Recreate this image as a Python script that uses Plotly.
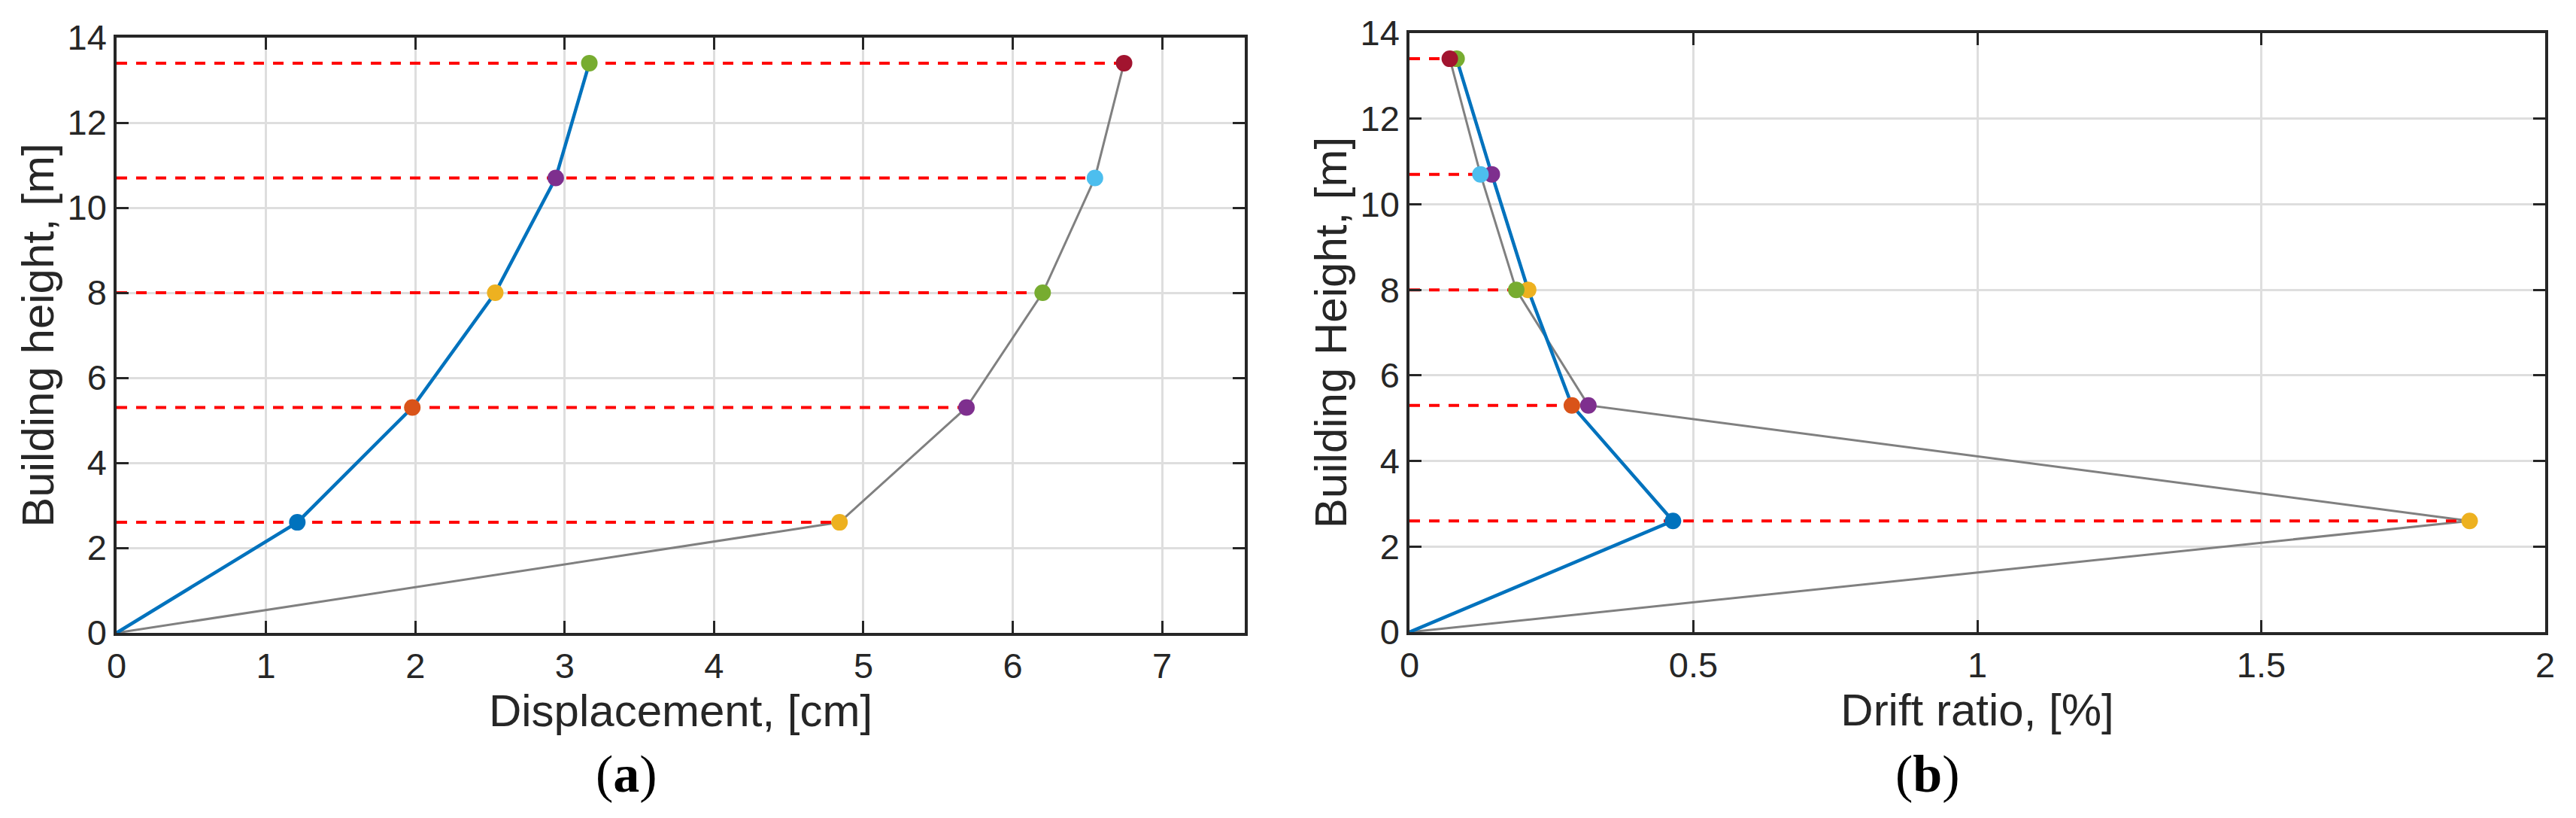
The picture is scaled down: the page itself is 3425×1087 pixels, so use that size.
import plotly.graph_objects as go

# ---------------- data ----------------
heights = [0, 2.6, 5.3, 8.0, 10.7, 13.4]
disp_blue = [0, 1.21, 1.98, 2.535, 2.94, 3.165]
disp_gray = [0, 4.84, 5.69, 6.20, 6.55, 6.745]
drift_blue = [0, 0.464, 0.286, 0.209, 0.145, 0.083]
drift_gray = [0, 1.867, 0.315, 0.188, 0.125, 0.071]

xticks_a = [0, 1, 2, 3, 4, 5, 6, 7]
xticks_b = [0, 0.5, 1, 1.5, 2]
yticks = [0, 2, 4, 6, 8, 10, 12, 14]

# ---------------- style ----------------
W, H = 3425, 1087
C_BLUE = "#0072BD"
C_GRAY = "#808080"
C_RED = "#FF0000"
AX = "#262626"
GRID = "#DEDEDE"
PAL = ["#0072BD", "#D95319", "#EDB120", "#7E2F8E", "#77AC30", "#4DBEEE", "#A2142F"]
mk_blue = PAL[0:5]
mk_gray = PAL[2:7]
FONT = "Liberation Sans, Arial, Helvetica, sans-serif"
TFS = 60

def px_dom(a, b, total):
    return [a / total, b / total]

fig = go.Figure()

def add_panel(xb, xg, xa, ya):
    fig.add_trace(go.Scatter(x=xg, y=heights, mode="lines", line=dict(color=C_GRAY, width=3),
                             xaxis=xa, yaxis=ya, showlegend=False, hoverinfo="skip"))
    fig.add_trace(go.Scatter(x=xb, y=heights, mode="lines", line=dict(color=C_BLUE, width=4.5),
                             xaxis=xa, yaxis=ya, showlegend=False, hoverinfo="skip"))
    dx, dy = [], []
    for h, g in zip(heights[1:], xg[1:]):
        dx += [0, g, None]
        dy += [h, h, None]
    fig.add_trace(go.Scatter(x=dx, y=dy, mode="lines",
                             line=dict(color=C_RED, width=4, dash="14px,12px"),
                             xaxis=xa, yaxis=ya, showlegend=False, hoverinfo="skip"))
    fig.add_trace(go.Scatter(x=xb[1:], y=heights[1:], mode="markers",
                             marker=dict(color=mk_blue, size=22, symbol="circle"),
                             xaxis=xa, yaxis=ya, showlegend=False, hoverinfo="skip"))
    fig.add_trace(go.Scatter(x=xg[1:], y=heights[1:], mode="markers",
                             marker=dict(color=mk_gray, size=22, symbol="circle"),
                             xaxis=xa, yaxis=ya, showlegend=False, hoverinfo="skip"))

add_panel(disp_blue, disp_gray, "x", "y")
add_panel(drift_blue, drift_gray, "x2", "y2")

axis_common = dict(
    showline=True, linecolor=AX, linewidth=3.5, mirror="ticks",
    ticks="inside", ticklen=16, tickwidth=3, tickcolor=AX,
    showgrid=True, gridcolor=GRID, gridwidth=3, zeroline=False,
    tickfont=dict(family=FONT, size=47, color=AX), automargin=False,
)

fig.update_layout(
    template="none",
    width=W, height=H,
    margin=dict(l=0, r=0, t=0, b=0, autoexpand=False),
    paper_bgcolor="white", plot_bgcolor="white",
    xaxis=dict(domain=px_dom(155, 1655, W), range=[0, 7.553], tickvals=xticks_a,
               title=dict(text="Displacement, [cm]", font=dict(family=FONT, size=TFS, color=AX), standoff=0),
               anchor="y", **axis_common),
    yaxis=dict(domain=[(H - 841) / H, (H - 50) / H], range=[0, 14], tickvals=yticks,
               title=dict(text="Building height, [m]", font=dict(family=FONT, size=TFS, color=AX), standoff=0),
               anchor="x", **axis_common),
    xaxis2=dict(domain=px_dom(1874, 3384, W), range=[0, 2], tickvals=xticks_b,
                title=dict(text="Drift ratio, [%]", font=dict(family=FONT, size=TFS, color=AX), standoff=0),
                anchor="y2", **axis_common),
    yaxis2=dict(domain=[(H - 840) / H, (H - 44) / H], range=[0, 14], tickvals=yticks,
                title=dict(text="Building Height, [m]", font=dict(family=FONT, size=TFS, color=AX), standoff=0),
                anchor="x2", **axis_common),
    annotations=[
        dict(text="(<b>a</b>)", x=833 / W, y=(H - 1028) / H, xref="paper", yref="paper",
             showarrow=False, xanchor="center", yanchor="middle",
             font=dict(family="Liberation Serif, Times New Roman, serif", size=70, color="black")),
        dict(text="(<b>b</b>)", x=2563 / W, y=(H - 1028) / H, xref="paper", yref="paper",
             showarrow=False, xanchor="center", yanchor="middle",
             font=dict(family="Liberation Serif, Times New Roman, serif", size=70, color="black")),
    ],
)

fig.write_html("out.html")
